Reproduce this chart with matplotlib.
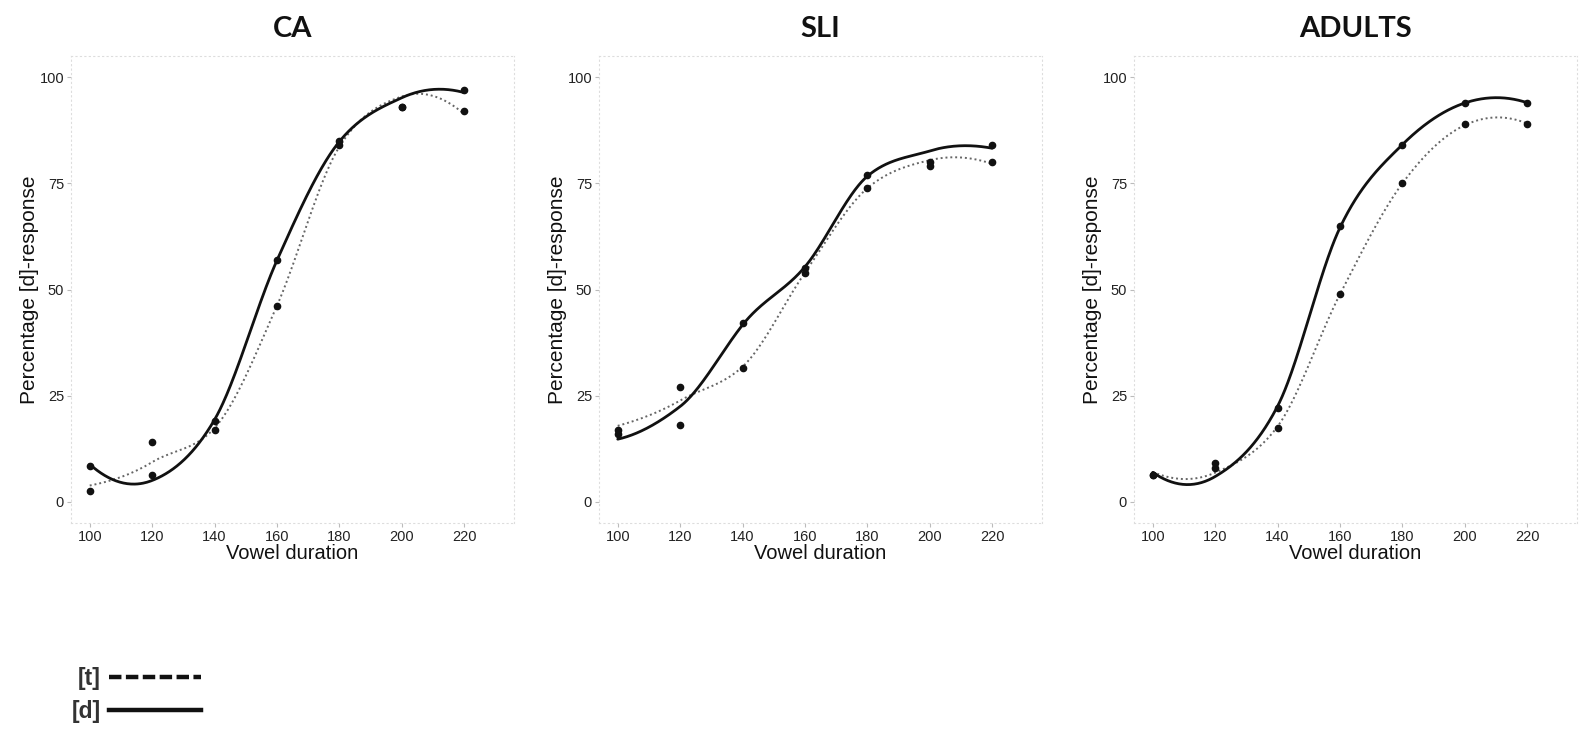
import numpy as np
import matplotlib
matplotlib.use("Agg")
import matplotlib.pyplot as plt
from matplotlib.lines import Line2D

# ---- data ----
durations = [100, 120, 140, 160, 180, 200, 220]
panels = ["CA", "SLI", "ADULTS"]
t_CA = [2.5, 14, 17, 46, 84, 93, 92]
d_CA = [8.5, 6.3, 19, 57, 85, 93, 97]
t_SLI = [17, 27, 31.5, 54, 74, 79, 80]
d_SLI = [16, 18, 42, 55, 77, 80, 84]
t_AD = [6.4, 9.2, 17.4, 49, 75, 89, 89]
d_AD = [6.4, 8, 22, 65, 84, 94, 94]
t_series = [t_CA, t_SLI, t_AD]
d_series = [d_CA, d_SLI, d_AD]
yticks = [0, 25, 50, 75, 100]
xticks = [100, 120, 140, 160, 180, 200, 220]
legend_labels = ["[t]", "[d]"]


def local_fit(x, y, x0, span=0.75, degree=2):
    n = len(x)
    q = int(np.floor(n * span))
    d = np.abs(x - x0)
    h = np.sort(d)[q - 1] * 1.05
    w = np.clip(1 - (d / h) ** 3, 0, None) ** 3
    c = np.polyfit(x - x0, y, degree, w=np.sqrt(w))
    return c[-1], c[-2]  # value, slope


def loess_curve(x, y, xg):
    """loess fit evaluated at vertices, then cubic Hermite interpolation (like R's surface='interpolate')."""
    x = np.asarray(x, float)
    y = np.asarray(y, float)
    v = x.copy()
    fv, sv = zip(*[local_fit(x, y, v0) for v0 in v])
    fv = np.array(fv)
    sv = np.array(sv)
    out = np.empty_like(xg)
    for j, xx in enumerate(xg):
        k = min(np.searchsorted(v, xx, side="right") - 1, len(v) - 2)
        k = max(k, 0)
        hh = v[k + 1] - v[k]
        t = (xx - v[k]) / hh
        h00 = 2 * t**3 - 3 * t**2 + 1
        h10 = t**3 - 2 * t**2 + t
        h01 = -2 * t**3 + 3 * t**2
        h11 = t**3 - t**2
        out[j] = h00 * fv[k] + h10 * hh * sv[k] + h01 * fv[k + 1] + h11 * hh * sv[k + 1]
    return out


W, H = 1585, 730
fig = plt.figure(figsize=(W / 100, H / 100), dpi=100)
lefts = [71, 599, 1134]
aw = 443
bottom_px, top_px = 523, 56

grid = np.linspace(min(durations), max(durations), 400)

for i, name in enumerate(panels):
    ax = fig.add_axes([lefts[i] / W, 1 - bottom_px / H, aw / W, (bottom_px - top_px) / H])
    ts = t_series[i]
    ds = d_series[i]
    ax.plot(grid, loess_curve(durations, ts, grid), color="#666666", lw=1.4, ls=(0, (1, 1.5)))
    ax.plot(grid, loess_curve(durations, ds, grid), color="#111111", lw=2.0, solid_capstyle="round")
    ax.plot(durations, ts, "o", color="#111111", ms=4.5)
    ax.plot(durations, ds, "o", color="#111111", ms=4.5)
    ax.set_xlim(94, 236)
    ax.set_ylim(-5, 105)
    ax.set_xticks(xticks)
    ax.set_yticks(yticks)
    ax.tick_params(axis="both", labelsize=10.5, colors="#bbbbbb", labelcolor="#222222",
                   length=3, width=0.8, pad=2)
    for lab in ax.get_xticklabels() + ax.get_yticklabels():
        lab.set_fontfamily("Liberation Sans")
    for sp in ax.spines.values():
        sp.set_color("#dddddd")
        sp.set_linestyle((0, (1, 3)))
        sp.set_linewidth(0.8)
    ax.set_xlabel("Vowel duration", fontsize=14.5, family="Liberation Sans", labelpad=0, color="#111111")
    ax.set_ylabel("Percentage [d]-response", fontsize=15, family="Liberation Sans", labelpad=0, color="#111111")
    ax.set_title(name, fontsize=21, family="Lato", fontweight="bold", pad=14, color="#111111")

handles = [Line2D([], [], color="#111111", lw=3.2, ls=(0, (2.8, 1.0))),
           Line2D([], [], color="#111111", lw=3.2)]
leg = fig.legend(handles=handles, labels=legend_labels, loc="upper left",
                 bbox_to_anchor=(72 / W, 1 - 667 / H), frameon=False, markerfirst=False,
                 handlelength=4.0, handletextpad=0.35, fontsize=16.5, labelspacing=0.45,
                 borderpad=0, borderaxespad=0)
for t in leg.get_texts():
    t.set_fontfamily("Liberation Sans")
    t.set_fontweight("bold")
    t.set_color("#333333")

fig.savefig("out.png", dpi=100)
